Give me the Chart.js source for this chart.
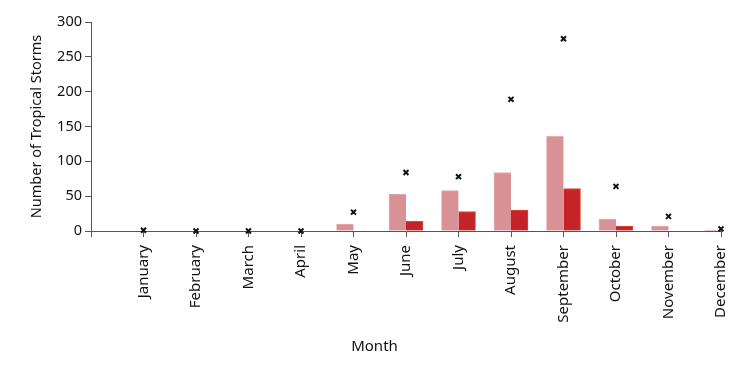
<!DOCTYPE html>
<html>
<head>
<meta charset="utf-8">
<script src="https://cdn.jsdelivr.net/npm/chart.js@4"></script>
<style>
  html, body { margin: 0; padding: 0; background: #fff; }
  #wrap { width: 741px; height: 366px; }
</style>
</head>
<body>
<div id="wrap"><canvas id="chart" width="741" height="366"></canvas></div>
<script>
const months = ['January', 'February', 'March', 'April', 'May', 'June', 'July',
  'August', 'September', 'October', 'November', 'December'];
const lightBars = [0, 0, 0, 0, 10, 53, 58, 84, 136, 17, 7, 1.5];
const darkBars = [0, 0, 0, 0, 0, 14, 28, 30, 61, 7, 0, 0];
const stars = [1, 0, 0, 0, 27, 84, 78, 189, 276, 64, 21, 3];
const yTicks = [0, 50, 100, 150, 200, 250, 300];

const FONT = '"Noto Sans", "Open Sans", sans-serif';
const toPoints = arr => arr.map((v, i) => ({ x: i + 1, y: v }));

const ctx = document.getElementById('chart').getContext('2d');
new Chart(ctx, {
  type: 'bar',
  data: {
    datasets: [
      {
        type: 'line',
        label: 'Total',
        data: toPoints(stars),
        showLine: false,
        pointStyle: 'crossRot',
        pointRadius: 3.5,
        pointBorderWidth: 2,
        borderColor: '#111',
        backgroundColor: '#111',
        clip: false,
        order: 0
      },
      {
        label: 'A',
        data: toPoints(lightBars),
        backgroundColor: '#d89194',
        borderColor: '#e6aeb0',
        borderWidth: { top: 1, left: 1, right: 0, bottom: 0 },
        barThickness: 17,
        order: 1
      },
      {
        label: 'B',
        data: toPoints(darkBars),
        backgroundColor: '#c4232a',
        borderColor: '#d4502f',
        borderWidth: { top: 1, left: 0, right: 1, bottom: 0 },
        barThickness: 17,
        order: 1
      }
    ]
  },
  options: {
    responsive: false,
    animation: false,
    layout: { padding: { left: 28, right: 20, top: 22, bottom: 0 } },
    plugins: {
      legend: { display: false },
      tooltip: { enabled: false },
      title: {
        display: true,
        position: 'bottom',
        text: 'Month',
        color: '#111',
        font: { family: FONT, size: 15, weight: 'normal', lineHeight: 1.2 },
        padding: { top: 10, bottom: 10 }
      }
    },
    scales: {
      x: {
        type: 'linear',
        min: 0,
        max: 12,
        offset: false,
        grid: { offset: false, drawOnChartArea: false, drawTicks: true, tickLength: 6, color: '#555' },
        border: { color: '#555', width: 1 },
        ticks: {
          stepSize: 1,
          autoSkip: false,
          minRotation: 90,
          maxRotation: 90,
          padding: 8,
          color: '#111',
          font: { family: FONT, size: 15 },
          callback: v => months[v - 1] || ''
        },
        afterFit: s => {
          s.height = 366 - 38 - 231;
          s.paddingLeft = 0;
          s.paddingRight = 0;
        }
      },
      y: {
        min: 0,
        max: 300,
        afterBuildTicks: s => { s.ticks = yTicks.map(v => ({ value: v })); },
        grid: { drawOnChartArea: false, drawTicks: true, tickLength: 6, color: '#555' },
        border: { color: '#555', width: 1 },
        ticks: {
          padding: 3,
          color: '#111',
          font: { family: FONT, size: 14.5 }
        },
        title: {
          display: true,
          text: 'Number of Tropical Storms',
          color: '#111',
          font: { family: FONT, size: 14.5 },
          padding: 0
        },
        afterFit: s => { s.width = 91 - 28; }
      }
    }
  }
});
</script>
</body>
</html>
